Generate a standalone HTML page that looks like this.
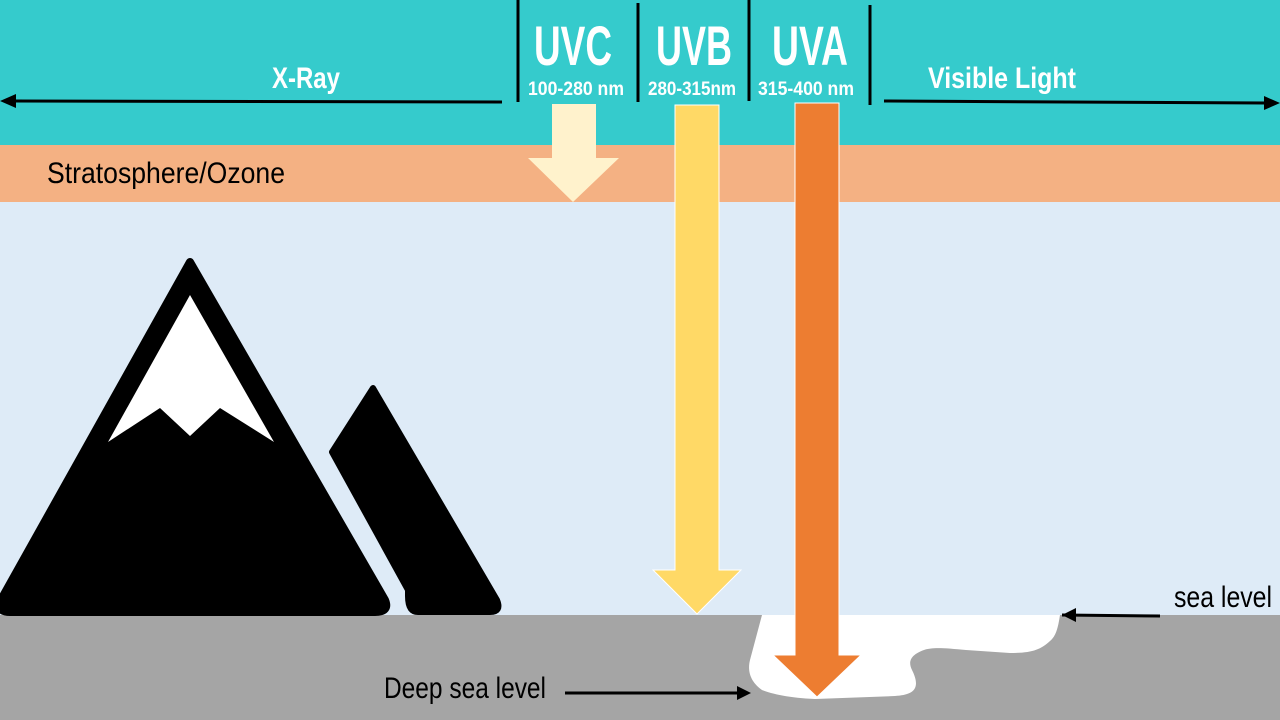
<!DOCTYPE html>
<html><head><meta charset="utf-8"><style>html,body{margin:0;padding:0;width:1280px;height:720px;overflow:hidden}</style></head>
<body>
<svg width="1280" height="720" viewBox="0 0 1280 720" xmlns="http://www.w3.org/2000/svg" font-family="Liberation Sans, sans-serif">
<rect x="0" y="0" width="1280" height="145" fill="#35cbcc"/>
<rect x="0" y="145" width="1280" height="57" fill="#f4b183"/>
<rect x="0" y="202" width="1280" height="413" fill="#deebf7"/>
<rect x="0" y="615" width="1280" height="105" fill="#a5a5a5"/>
<!-- white deep region -->
<path d="M762,615 L1060,615 C1058,628 1056,636 1050,641 C1040,650 1032,653 1010,653 L966,650 C945,648 932,647 924,650 C910,655 908,662 912,670 C922,690 912,695 895,696 L815,699 C790,698 772,694 762,690 C748,680 748,668 750,660 Z" fill="#fff"/>
<!-- separators -->
<g stroke="#000" stroke-width="3">
<line x1="518" y1="0" x2="518" y2="102"/>
<line x1="638" y1="3" x2="638" y2="102"/>
<line x1="749" y1="0" x2="749" y2="101"/>
<line x1="870" y1="5" x2="870" y2="105"/>
<line x1="14" y1="101" x2="502" y2="102"/>
<line x1="884" y1="101" x2="1266" y2="103"/>
<line x1="1062" y1="615" x2="1160" y2="616"/>
<line x1="565" y1="693" x2="738" y2="693"/>
</g>
<g fill="#000">
<polygon points="0,101 16,94 16,108"/>
<polygon points="1280,103 1264,96 1264,110"/>
<polygon points="1062,615 1076,608 1076,622"/>
<polygon points="751,693 737,686 737,700"/>
</g>
<!-- arrows -->
<polygon points="552,104 596,104 596,158 619,158 573,202 528,158 552,158" fill="#fff2cc"/>
<polygon points="675,105 719,105 719,570 741,570 697,614 653,570 675,570" fill="#ffd966" stroke="#fff" stroke-width="1"/>
<polygon points="795,103 839,103 839,655 861,655 817,697 773,655 795,655" fill="#ed7d31" stroke="#fff" stroke-width="1"/>
<!-- mountains -->
<path d="M190,262 L385,600 Q390,612 375,612 L10,612 Q-5,612 2,598 Z" fill="#000" stroke="#000" stroke-width="8" stroke-linejoin="round"/>
<polygon points="190,295 274,442 220,408 190,436 160,408 108,442" fill="#fff"/>
<path d="M373,388 L497,600 Q502,612 490,612 L418,612 Q408,612 408,596 L408,590 L332,452 Z" fill="#000" stroke="#000" stroke-width="6" stroke-linejoin="round"/>
<!-- text -->
<g fill="#fff" font-weight="bold" text-anchor="middle">
<text x="306" y="88" font-size="30" textLength="68" lengthAdjust="spacingAndGlyphs">X-Ray</text>
<text x="1002" y="88" font-size="30" textLength="148" lengthAdjust="spacingAndGlyphs">Visible Light</text>
<text x="573" y="65" font-size="56" textLength="78" lengthAdjust="spacingAndGlyphs">UVC</text>
<text x="694" y="65" font-size="56" textLength="76" lengthAdjust="spacingAndGlyphs">UVB</text>
<text x="810" y="65" font-size="56" textLength="76" lengthAdjust="spacingAndGlyphs">UVA</text>
<text x="576" y="95" font-size="19" textLength="96" lengthAdjust="spacingAndGlyphs">100-280 nm</text>
<text x="692" y="95" font-size="19" textLength="88" lengthAdjust="spacingAndGlyphs">280-315nm</text>
<text x="806" y="95" font-size="19" textLength="96" lengthAdjust="spacingAndGlyphs">315-400 nm</text>
</g>
<g fill="#000">
<text x="47" y="183" font-size="30" textLength="238" lengthAdjust="spacingAndGlyphs">Stratosphere/Ozone</text>
<text x="1174" y="607" font-size="30" textLength="98" lengthAdjust="spacingAndGlyphs">sea level</text>
<text x="384" y="698" font-size="30" textLength="162" lengthAdjust="spacingAndGlyphs">Deep sea level</text>
</g>
</svg>
</body></html>
